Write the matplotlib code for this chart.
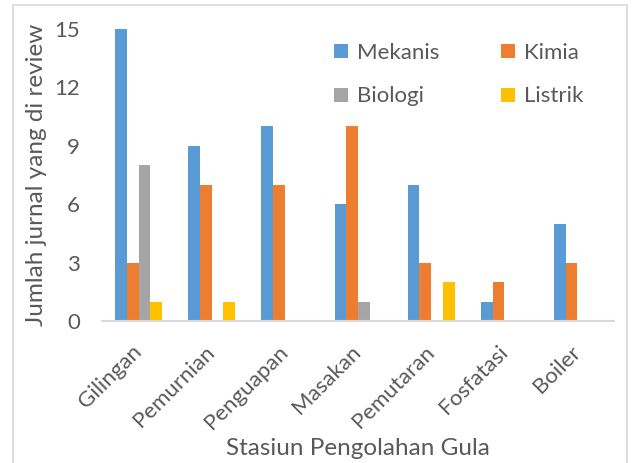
import numpy as np
import matplotlib
matplotlib.use('Agg')
import matplotlib.pyplot as plt
from matplotlib.patches import Rectangle

# data
stations = ['Gilingan', 'Pemurnian', 'Penguapan', 'Masakan', 'Pemutaran', 'Fosfatasi', 'Boiler']
mekanis = [15, 9, 10, 6, 7, 1, 5]
kimia = [3, 7, 7, 10, 3, 2, 3]
biologi = [8, 0, 0, 1, 0, 0, 0]
listrik = [1, 1, 0, 0, 2, 0, 0]

series = [('Mekanis', mekanis, '#5B9BD5'),
          ('Kimia', kimia, '#ED7D31'),
          ('Biologi', biologi, '#A5A5A5'),
          ('Listrik', listrik, '#FFC000')]

plt.rcParams['font.family'] = ['Lato', 'DejaVu Sans']
txt = '#595959'

fig = plt.figure(figsize=(6.32, 4.63), dpi=100)
ax = fig.add_axes([102 / 632, 1 - 321 / 463, 512 / 632, 292 / 463])

# outer chart frame like the Excel chart area
fig.patches.append(Rectangle((13 / 632, -0.05), 614 / 632, 1 - 5 / 463 + 0.05,
                             transform=fig.transFigure, fill=False,
                             edgecolor='#D9D9D9', linewidth=1.2))

x = np.arange(len(stations))
w = 0.16
bars = []
for i, (name, vals, col) in enumerate(series):
    bars.append(ax.bar(x + (i - 1.5) * w, vals, width=w, color=col, label=name))

ax.set_xlim(-0.5, len(stations) - 0.5)
ax.set_ylim(0, 15)
ax.set_yticks(np.arange(0, 16, 3))
ax.set_xticks(x)
ax.set_xticklabels(stations, rotation=45, ha='right', va='center', rotation_mode='anchor')
ax.tick_params(axis='both', length=0, colors=txt, labelsize=16)
ax.tick_params(axis='x', pad=20)
ax.tick_params(axis='y', pad=16)

for s in ['top', 'right', 'left']:
    ax.spines[s].set_visible(False)
ax.spines['bottom'].set_color('#D9D9D9')
ax.spines['bottom'].set_linewidth(1.5)

ax.set_ylabel('Jumlah jurnal yang di review', color=txt, fontsize=17.5, labelpad=5)
ax.set_xlabel('Stasiun Pengolahan Gula', color=txt, fontsize=17.5, va='baseline')
ax.xaxis.set_label_coords(0.5, (321 - 455) / 292)

# legend fills column-wise, so reorder to get Mekanis/Kimia on the first row
order = [0, 2, 1, 3]
leg = ax.legend([bars[k] for k in order], [series[k][0] for k in order],
                ncol=2, frameon=False, loc='upper left', bbox_to_anchor=(0.415, 1.02),
                fontsize=16, handlelength=0.6, handleheight=0.6, handletextpad=0.4,
                columnspacing=2.8, labelspacing=1.05)
for t in leg.get_texts():
    t.set_color(txt)

fig.savefig('out.png', dpi=100)
